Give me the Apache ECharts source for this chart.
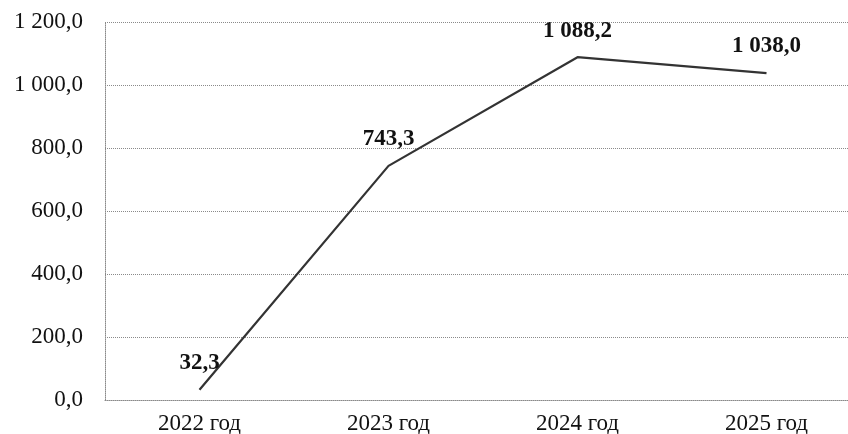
<!DOCTYPE html>
<html>
<head>
<meta charset="utf-8">
<script src="https://cdn.jsdelivr.net/npm/echarts@6/dist/echarts.min.js"></script>
<style>
html,body{margin:0;padding:0;background:#fff;}
#c{width:848px;height:434px;}
</style>
</head>
<body>
<div id="c"></div>
<script>
const categories = ['2022 год', '2023 год', '2024 год', '2025 год'];
const values = [32.3, 743.3, 1088.2, 1038.0];
const yMin = 0, yMax = 1200, yStep = 200;

function fmt(v) {
  const s = Number(v).toFixed(1);
  const parts = s.split('.');
  const intPart = parts[0].replace(/\B(?=(\d{3})+(?!\d))/g, ' ');
  return intPart + ',' + parts[1];
}

const chart = echarts.init(document.getElementById('c'), null, {renderer: 'canvas'});
chart.setOption({
  animation: false,
  backgroundColor: '#ffffff',
  grid: {left: 105, top: 22, width: 756, height: 378, outerBoundsMode: 'none', containLabel: false},
  xAxis: {
    type: 'category',
    data: categories,
    boundaryGap: true,
    axisLine: {show: true, lineStyle: {color: '#8a8a8a', type: 'dotted', width: 1}},
    axisTick: {show: false},
    axisLabel: {color: '#111', fontFamily: 'Liberation Serif', fontSize: 23, margin: 12},
    splitLine: {show: false}
  },
  yAxis: {
    type: 'value',
    min: yMin, max: yMax, interval: yStep,
    axisLine: {show: true, lineStyle: {color: '#8a8a8a', type: 'dotted', width: 1}},
    axisTick: {show: false},
    axisLabel: {color: '#111', fontFamily: 'Liberation Serif', fontSize: 23, margin: 22, formatter: fmt},
    splitLine: {show: true, lineStyle: {color: '#8a8a8a', type: 'dotted', width: 1}}
  },
  series: [{
    type: 'line',
    data: values,
    symbol: 'circle',
    symbolSize: 0.1,
    showSymbol: true,
    itemStyle: {color: '#333'},
    lineStyle: {color: '#333', width: 2.2},
    label: {
      show: true,
      position: 'top',
      distance: 15,
      color: '#111',
      fontFamily: 'Liberation Serif',
      fontWeight: 'bold',
      fontSize: 23,
      formatter: p => fmt(p.value)
    }
  }]
});
</script>
</body>
</html>
